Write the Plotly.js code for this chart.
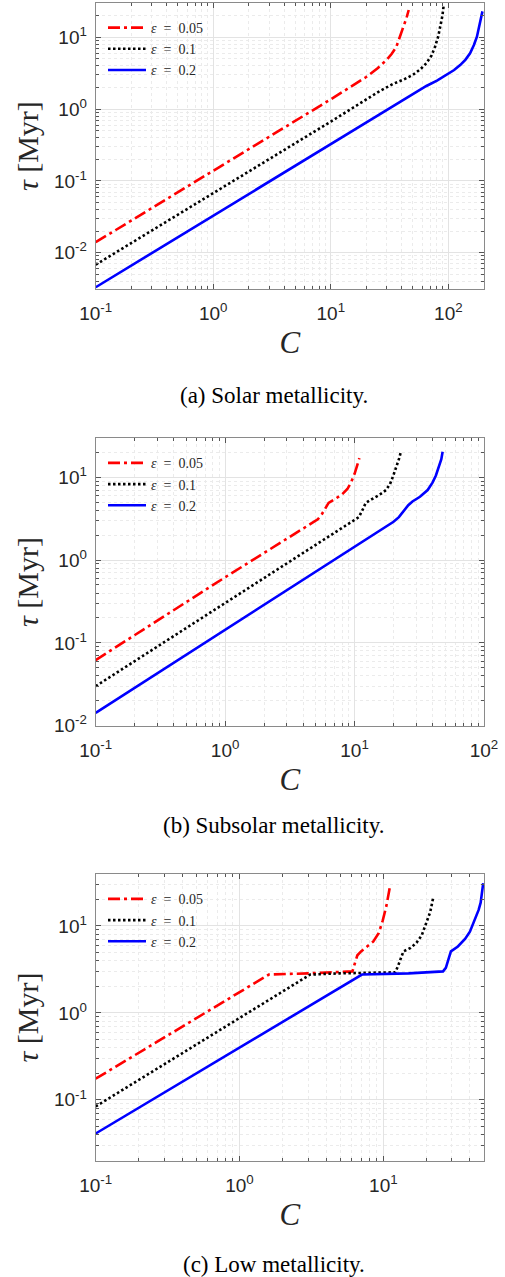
<!DOCTYPE html>
<html>
<head>
<meta charset="utf-8">
<script src="https://cdn.plot.ly/plotly-3.0.1.min.js"></script>
<style>html,body{margin:0;padding:0;background:#fff;}#chart{width:505px;height:1277px;}</style>
</head>
<body>
<div id="chart"></div>
<script>
// ---------- data ----------
const seriesNames = ['<i>ε</i>  =  0.05', '<i>ε</i>  =  0.1', '<i>ε</i>  =  0.2'];
const captions = ['(a) Solar metallicity.', '(b) Subsolar metallicity.', '(c) Low metallicity.'];

// (a) Solar metallicity
const cA_e005 = [0.1, 1, 10, 20, 25, 30, 33, 36, 39, 42, 44, 46];
const tA_e005 = [0.014, 0.137, 1.37, 2.8, 3.7, 4.9, 5.9, 7.3, 10.6, 14.5, 18.5, 24];
const cA_e01 = [0.1, 1, 10, 26, 34, 42, 50, 58, 65, 72, 77, 82, 86, 89, 91];
const tA_e01 = [0.0068, 0.067, 0.67, 1.78, 2.25, 2.6, 3.0, 3.6, 4.35, 5.6, 7.4, 10.3, 15, 20, 27];
const cA_e02 = [0.1, 1, 10, 50, 65, 80, 97, 112, 126, 140, 153, 165, 175, 185, 195];
const tA_e02 = [0.0033, 0.033, 0.33, 1.65, 2.1, 2.5, 3.0, 3.5, 4.1, 4.9, 6.0, 7.8, 10.2, 15, 23];

// (b) Subsolar metallicity
const cB_e005 = [0.1, 1, 4.6, 5.2, 5.6, 6.0, 6.3, 7, 8, 8.8, 9.4, 10, 10.5, 10.9];
const tB_e005 = [0.062, 0.62, 2.75, 3.1, 3.6, 4.4, 4.9, 5.4, 6.2, 7.2, 8.7, 11, 13.8, 17];
const cB_e01 = [0.1, 1, 10, 10.8, 11.5, 12.2, 13.5, 15.5, 17.5, 18.8, 19.8, 21, 22, 22.8];
const tB_e01 = [0.030, 0.30, 3.0, 3.3, 4.0, 4.9, 5.4, 6.1, 7.0, 8.3, 10.2, 13, 16.5, 20.3];
const cB_e02 = [0.1, 1, 10, 20, 22, 24, 26, 28, 32, 36.7, 40, 42.5, 45, 46.8, 47.9];
const tB_e02 = [0.0143, 0.143, 1.43, 2.9, 3.3, 3.9, 4.6, 5.1, 5.8, 7.0, 8.6, 10.5, 13.5, 16.5, 20.3];

// (c) Low metallicity
const cC_e005 = [0.1, 1.6, 3, 6.1, 6.3, 6.6, 7.0, 7.5, 8.5, 9.3, 9.9, 10.5, 11.1];
const tC_e005 = [0.175, 2.76, 2.85, 3.0, 3.6, 4.6, 5.1, 5.6, 6.6, 8.3, 11.5, 17, 28];
const cC_e01 = [0.1, 3.1, 5, 12.1, 12.6, 13.2, 13.8, 15.5, 17, 18.5, 20, 21.2, 22.2];
const tC_e01 = [0.084, 2.76, 2.85, 2.93, 3.4, 4.3, 5.1, 5.6, 6.4, 7.8, 10.8, 14.5, 21];
const cC_e02 = [0.1, 7.1, 15, 26, 27.2, 28.2, 29.5, 33, 37, 40, 42.4, 44.5, 46, 47.5, 48.5, 49.5];
const tC_e02 = [0.041, 2.76, 2.85, 3.0, 3.3, 4.0, 5.1, 5.8, 7.1, 8.6, 10.8, 13, 15.3, 18.5, 23, 31];

// tick labels
const tickVals = [0.01, 0.1, 1, 10, 100];
const tickText = ['10<sup>-2</sup>', '10<sup>-1</sup>', '10<sup>0</sup>', '10<sup>1</sup>', '10<sup>2</sup>'];

// ---------- styles ----------
const lineStyles = [
  {color: '#ff0000', width: 2.6, dash: '12px,4px,3px,4px'},
  {color: '#000000', width: 2.6, dash: '2.5px,2.5px'},
  {color: '#0000ff', width: 2.6, dash: 'solid'}
];

const W = 505, H = 1277;
const px = v => v / W;
const py = v => 1 - v / H;

const panels = [
  {c: [cA_e005, cA_e01, cA_e02], t: [tA_e005, tA_e01, tA_e02], top: 3, bottom: 289.3, xr: [-1, Math.log10(201)], yr: [-2.51, 1.478]},
  {c: [cB_e005, cB_e01, cB_e02], t: [tB_e005, tB_e01, tB_e02], top: 438.3, bottom: 725.7, xr: [-1, 2], yr: [-2, 1.47]},
  {c: [cC_e005, cC_e01, cC_e02], t: [tC_e005, tC_e01, tC_e02], top: 874.3, bottom: 1160.7, xr: [-1, 1.70], yr: [-1.70, 1.594]}
];
const captionY = [395, 825, 1264];
const plotLeft = 95.7, plotRight = 484;

const traces = [];
const layout = {
  width: W, height: H,
  margin: {l: 0, r: 0, t: 0, b: 0},
  paper_bgcolor: '#ffffff', plot_bgcolor: '#ffffff',
  showlegend: true,
  annotations: []
};

function axisBase(range) {
  return {
    type: 'log', range: range, autorange: false,
    tickmode: 'array', tickvals: tickVals, ticktext: tickText,
    showline: true, linecolor: '#8a8a8a', linewidth: 1, mirror: 'allticks',
    ticks: 'inside', ticklen: 5, tickcolor: '#555555', tickwidth: 1,
    showgrid: true, gridcolor: '#e3e3e3', gridwidth: 1,
    minor: {dtick: 'D1', ticks: 'inside', ticklen: 3, tickcolor: '#555555', tickwidth: 1,
            showgrid: true, gridcolor: '#ebebeb', griddash: 'dot', gridwidth: 1},
    zeroline: false,
    tickfont: {family: 'Liberation Sans, Arial, sans-serif', size: 19, color: '#262626'},
    automargin: false, fixedrange: true
  };
}

panels.forEach((p, i) => {
  const n = i === 0 ? '' : String(i + 1);
  const xa = 'x' + n, ya = 'y' + n;
  const legName = 'legend' + n;
  for (let k = 0; k < 3; k++) {
    traces.push({
      type: 'scatter', mode: 'lines',
      x: p.c[k], y: p.t[k],
      xaxis: xa, yaxis: ya,
      name: seriesNames[k],
      legend: legName,
      line: Object.assign({shape: 'linear'}, lineStyles[k]),
      hoverinfo: 'skip'
    });
  }
  const xax = axisBase(p.xr);
  xax.domain = [px(plotLeft), px(plotRight)];
  xax.anchor = ya;
  xax.ticklabelstandoff = 7;
  xax.title = {text: '<i>C</i>', font: {family: 'Liberation Serif, Times New Roman, serif', size: 31, color: '#262626'}, standoff: 8};
  const yax = axisBase(p.yr);
  yax.domain = [py(p.bottom), py(p.top)];
  yax.anchor = xa;
  yax.ticklabelstandoff = 4;
  yax.title = {text: '<i>τ</i> [Myr]', font: {family: 'Liberation Serif, Times New Roman, serif', size: 30, color: '#262626'}, standoff: 6};
  layout['xaxis' + n] = xax;
  layout['yaxis' + n] = yax;

  layout[legName] = {
    x: px(103), y: py(p.top + 9), xref: 'paper', yref: 'paper',
    xanchor: 'left', yanchor: 'top',
    bgcolor: 'rgba(0,0,0,0)', borderwidth: 0,
    font: {family: 'Liberation Serif, Times New Roman, serif', size: 14, color: '#262626'},
    itemwidth: 38, tracegroupgap: 0
  };

  layout.annotations.push({
    text: captions[i], xref: 'paper', yref: 'paper',
    x: px(273.5), y: py(captionY[i]), xanchor: 'center', yanchor: 'middle',
    showarrow: false,
    font: {family: 'Liberation Serif, Times New Roman, serif', size: 23, color: '#000000'}
  });
});

Plotly.newPlot('chart', traces, layout, {displayModeBar: false, staticPlot: true});
</script>
</body>
</html>
